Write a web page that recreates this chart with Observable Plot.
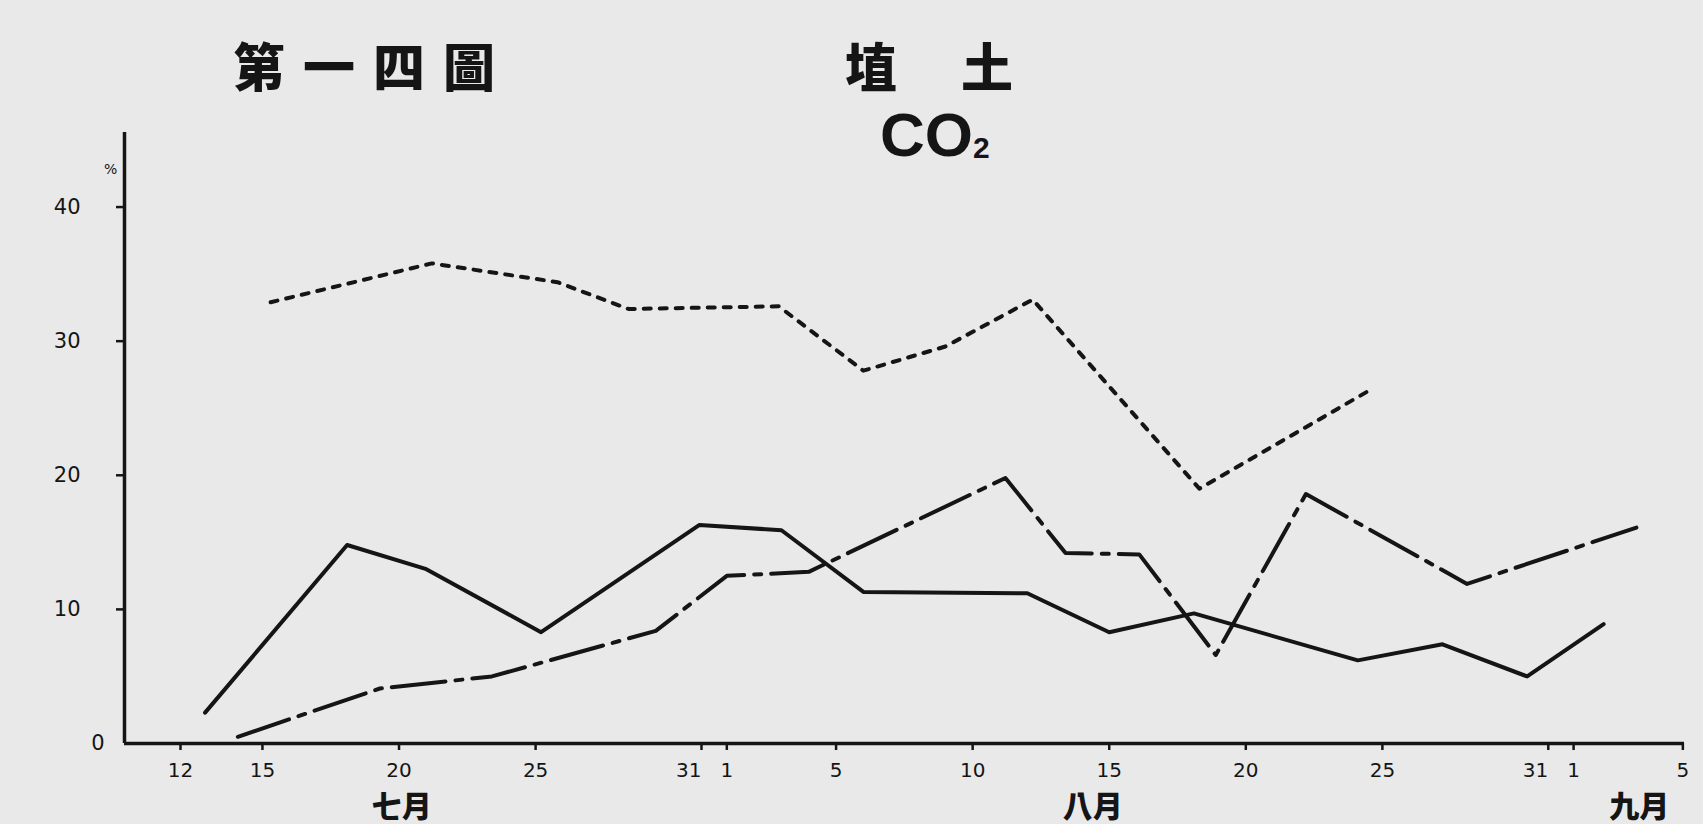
<!DOCTYPE html>
<html>
<head>
<meta charset="utf-8">
<script src="https://cdn.jsdelivr.net/npm/d3@7"></script>
<script src="https://cdn.jsdelivr.net/npm/@observablehq/plot@0.6"></script>
<style>
  html, body { margin: 0; padding: 0; overflow: hidden; background: #e9e9e9; }
  #wrap { position: relative; width: 1703px; height: 824px; }
  .t { position: absolute; color: #151515; white-space: nowrap; line-height: 1; }
  .cjk { font-family: "Liberation Sans", "Noto Sans CJK TC", "Noto Sans CJK JP", sans-serif; font-weight: 900; }
  #fig { left: 233px; top: 43px; font-size: 52px; line-height: 52px; letter-spacing: 18px; }
  #soil { left: 845px; top: 43px; font-size: 52px; line-height: 52px; letter-spacing: 64px; }
  #co2 { left: 880px; top: 104px; font-family: "Liberation Sans", Arial, sans-serif; font-weight: 700; font-size: 62px; }
  #co2 span { font-size: 30px; position: relative; top: 2px; }
  #pct { left: 104px; top: 162px; font-family: "DejaVu Sans", sans-serif; font-size: 14px; }
  svg { position: absolute; left: 0; top: 0; }
</style>
</head>
<body>
<div id="wrap">
  <div class="t cjk" id="fig">第一四圖</div>
  <div class="t cjk" id="soil">埴土</div>
  <div class="t" id="co2">CO<span>2</span></div>
  <div class="t" id="pct">%</div>
</div>
<script>
// Day numbers: July d = d, August d = 31 + d, September d = 62 + d
const solidDays   = [12.9, 18.1, 21.0, 25.2, 31.0, 34.0, 37.0, 43.0, 46.0, 49.1, 55.1, 58.2, 61.3, 64.1];
const solidValues = [2.3, 14.8, 13.0, 8.3, 16.3, 15.9, 11.3, 11.2, 8.3, 9.7, 6.2, 7.4, 5.0, 8.9];

const dottedDays   = [15.3, 21.2, 25.8, 28.4, 33.9, 37.0, 40.0, 43.2, 49.3, 55.5];
const dottedValues = [32.9, 35.8, 34.4, 32.4, 32.6, 27.8, 29.6, 33.1, 19.0, 26.3];

const dashDotDays   = [14.1, 19.3, 23.4, 29.4, 32.0, 35.0, 42.2, 44.4, 47.1, 49.9, 53.2, 59.1, 65.3];
const dashDotValues = [0.5, 4.1, 5.0, 8.4, 12.5, 12.8, 19.8, 14.2, 14.1, 6.6, 18.6, 11.9, 16.1];

const yTicks = [0, 10, 20, 30, 40];
const xTickDays   = [12, 15, 20, 25, 31, 32, 36, 41, 46, 51, 56, 62, 63, 67];
const xTickLabels = ["12", "15", "20", "25", "31", "1", "5", "10", "15", "20", "25", "31", "1", "5"];

const monthDays   = [20.1, 45.4, 65.4];
const monthLabels = ["七月", "八月", "九月"];

const toRows = (days, values) => days.map((d, i) => ({day: d, value: values[i]}));
const solid = toRows(solidDays, solidValues);
const dotted = toRows(dottedDays, dottedValues);
const dashDot = toRows(dashDotDays, dashDotValues);
const months = monthDays.map((d, i) => ({day: d, label: monthLabels[i]}));

const labelOf = new Map(xTickDays.map((d, i) => [d, xTickLabels[i]]));
const endTicks = xTickDays.filter(d => labelOf.get(d) === "31");
const midTicks = xTickDays.filter(d => labelOf.get(d) !== "31");

const ink = "#151515";
const xDomain = [9.95, 67.06];
const yDomain = [0, 45.56];
const numFont = "DejaVu Sans, sans-serif";

const chart = Plot.plot({
  width: 1703,
  height: 824,
  marginLeft: 124,
  marginRight: 19,
  marginTop: 132,
  marginBottom: 81,
  x: {type: "linear", domain: xDomain, label: null},
  y: {domain: yDomain, label: null},
  style: {background: "transparent", color: ink, fontFamily: numFont, fontSize: "20px", overflow: "visible"},
  marks: [
    Plot.axisY({ticks: yTicks.filter(d => d !== 0), tickSize: 8, tickPadding: 36, strokeWidth: 2.5, fontSize: 21, fontFamily: numFont, tickFormat: d => String(d)}),
    Plot.axisY({ticks: yTicks.filter(d => d === 0), tickSize: 0, tickPadding: 20, fontSize: 21, fontFamily: numFont, tickFormat: d => String(d)}),
    Plot.axisX({ticks: midTicks, tickSize: 7, tickPadding: 12, strokeWidth: 2.5, fontSize: 20, fontFamily: numFont, tickFormat: d => labelOf.get(d)}),
    Plot.axisX({ticks: endTicks, tickSize: 7, tickPadding: 12, strokeWidth: 2.5, fontSize: 20, fontFamily: numFont, textAnchor: "end", dx: 2, tickFormat: d => labelOf.get(d)}),
    Plot.ruleX([xDomain[0]], {y1: yDomain[0], y2: yDomain[1], stroke: ink, strokeWidth: 3.5}),
    Plot.ruleY([0], {x1: xDomain[0], x2: xDomain[1], stroke: ink, strokeWidth: 3.5}),
    Plot.line(solid, {x: "day", y: "value", stroke: ink, strokeWidth: 4}),
    Plot.line(dotted, {x: "day", y: "value", stroke: ink, strokeWidth: 4, strokeDasharray: "7,9"}),
    Plot.line(dashDot, {x: "day", y: "value", stroke: ink, strokeWidth: 4, strokeDasharray: "54,10,7,10"}),
    Plot.text(months, {x: "day", text: "label", frameAnchor: "bottom", dy: 52, lineAnchor: "top",
      fontSize: 30, fontWeight: 900, fontFamily: "Liberation Sans, Noto Sans CJK TC, Noto Sans CJK JP, sans-serif", fill: ink})
  ]
});
document.getElementById("wrap").appendChild(chart);
</script>
</body>
</html>
